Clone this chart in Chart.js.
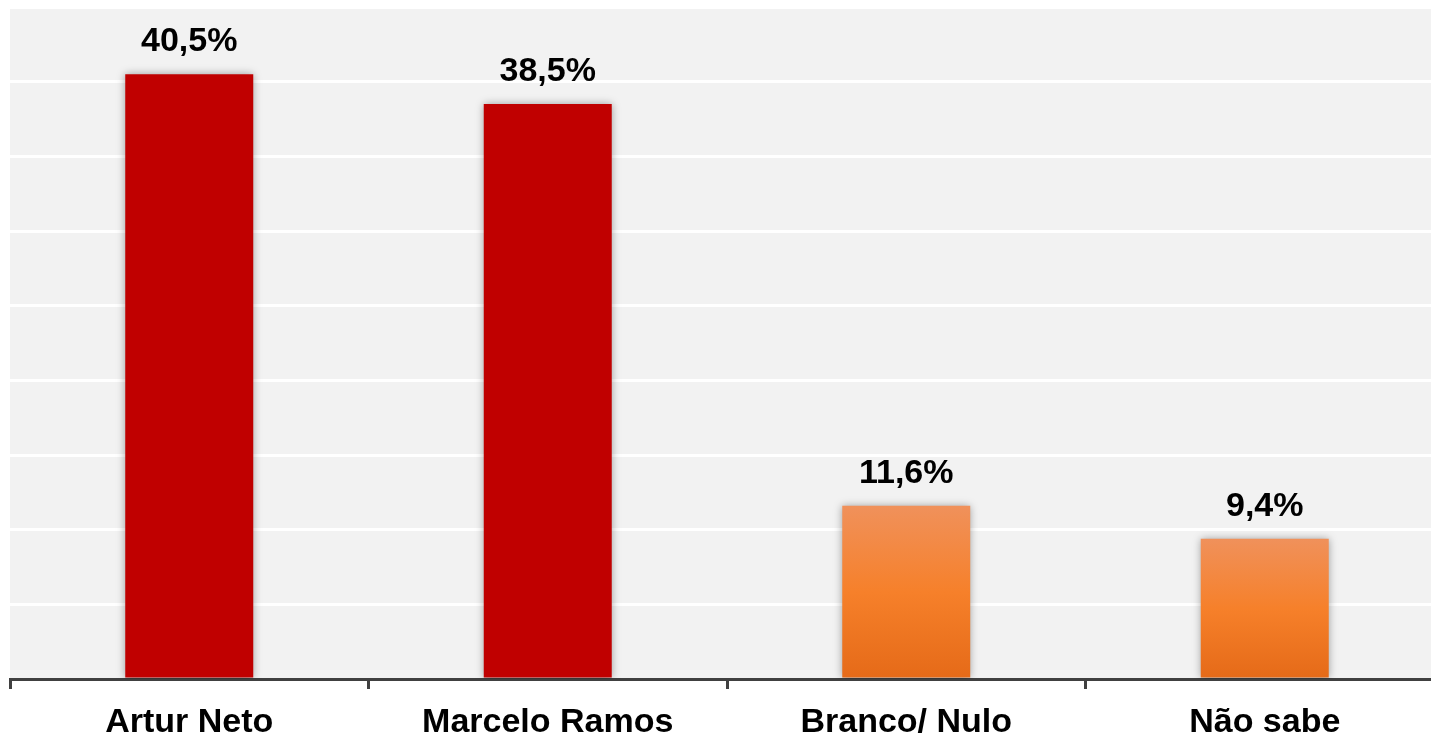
<!DOCTYPE html>
<html>
<head>
<meta charset="utf-8">
<script src="https://cdn.jsdelivr.net/npm/chart.js@4/dist/chart.umd.min.js"></script>
<style>
  html, body { margin: 0; padding: 0; background: #ffffff; overflow: hidden; }
  #wrap { width: 1445px; height: 735px; position: relative; }
</style>
</head>
<body>
<div id="wrap"><canvas id="c"></canvas></div>
<script>
const categories = ["Artur Neto", "Marcelo Ramos", "Branco/ Nulo", "Não sabe"];
const values = [40.5, 38.5, 11.6, 9.4];
const valueLabels = ["40,5%", "38,5%", "11,6%", "9,4%"];
const barKinds = ["red", "red", "orange", "orange"];
const yMax = 45;
const yStep = 5;

const FONT = "'Liberation Sans', Arial, sans-serif";
const FONT_SIZE = 34;

function barColor(ctx) {
  const i = ctx.dataIndex;
  if (barKinds[i] === "red") return "#C00000";
  const chart = ctx.chart;
  const area = chart.chartArea;
  const ys = chart.scales && chart.scales.y;
  if (!area || !ys) return "#F58229";
  const top = ys.getPixelForValue(values[i]);
  const bottom = ys.getPixelForValue(0);
  const g = chart.ctx.createLinearGradient(0, top, 0, bottom);
  g.addColorStop(0, "#F0915B");
  g.addColorStop(0.5, "#F6802A");
  g.addColorStop(1, "#E56A18");
  return g;
}

const bgPlugin = {
  id: "bgPlugin",
  beforeDraw(chart) {
    const { ctx, chartArea: a } = chart;
    ctx.save();
    ctx.fillStyle = "#F2F2F2";
    ctx.fillRect(a.left, a.top, a.right - a.left, a.bottom - a.top);
    ctx.restore();
  }
};

const shadowPlugin = {
  id: "shadowPlugin",
  beforeDatasetsDraw(chart) {
    const ctx = chart.ctx;
    ctx.save();
    ctx.shadowColor = "rgba(0,0,0,0.35)";
    ctx.shadowBlur = 8;
    ctx.shadowOffsetX = 0;
    ctx.shadowOffsetY = 0;
  },
  afterDatasetsDraw(chart) {
    chart.ctx.restore();
  }
};

const labelPlugin = {
  id: "labelPlugin",
  afterDatasetsDraw(chart) {
    const ctx = chart.ctx;
    const meta = chart.getDatasetMeta(0);
    ctx.save();
    ctx.font = "bold " + FONT_SIZE + "px " + FONT;
    ctx.fillStyle = "#000000";
    ctx.textAlign = "center";
    ctx.textBaseline = "alphabetic";
    meta.data.forEach((bar, i) => {
      ctx.fillText(valueLabels[i], bar.x, bar.y - 23);
    });
    ctx.restore();
  }
};

new Chart(document.getElementById("c"), {
  type: "bar",
  data: {
    labels: categories,
    datasets: [{
      data: values,
      backgroundColor: barColor,
      borderWidth: 0,
      categoryPercentage: 1.0,
      barPercentage: 0.357
    }]
  },
  options: {
    responsive: true,
    maintainAspectRatio: false,
    animation: false,
    devicePixelRatio: 1,
    layout: { padding: { left: 10, right: 1, top: 7, bottom: 0 } },
    plugins: { legend: { display: false }, tooltip: { enabled: false } },
    scales: {
      x: {
        offset: true,
        afterFit(scale) { scale.height = 56; },
        grid: {
          offset: true,
          drawOnChartArea: false,
          drawTicks: true,
          tickLength: 10,
          tickWidth: 3,
          tickColor: "#404040"
        },
        border: { display: true, color: "#404040", width: 3 },
        ticks: {
          color: "#000000",
          padding: 13,
          maxRotation: 0,
          font: { family: FONT, size: FONT_SIZE, weight: "bold" }
        }
      },
      y: {
        min: 0,
        max: yMax,
        ticks: { display: false, stepSize: yStep },
        border: { display: false },
        grid: { color: "#FFFFFF", lineWidth: 3, drawTicks: false }
      }
    }
  },
  plugins: [bgPlugin, shadowPlugin, labelPlugin]
});
</script>
</body>
</html>
